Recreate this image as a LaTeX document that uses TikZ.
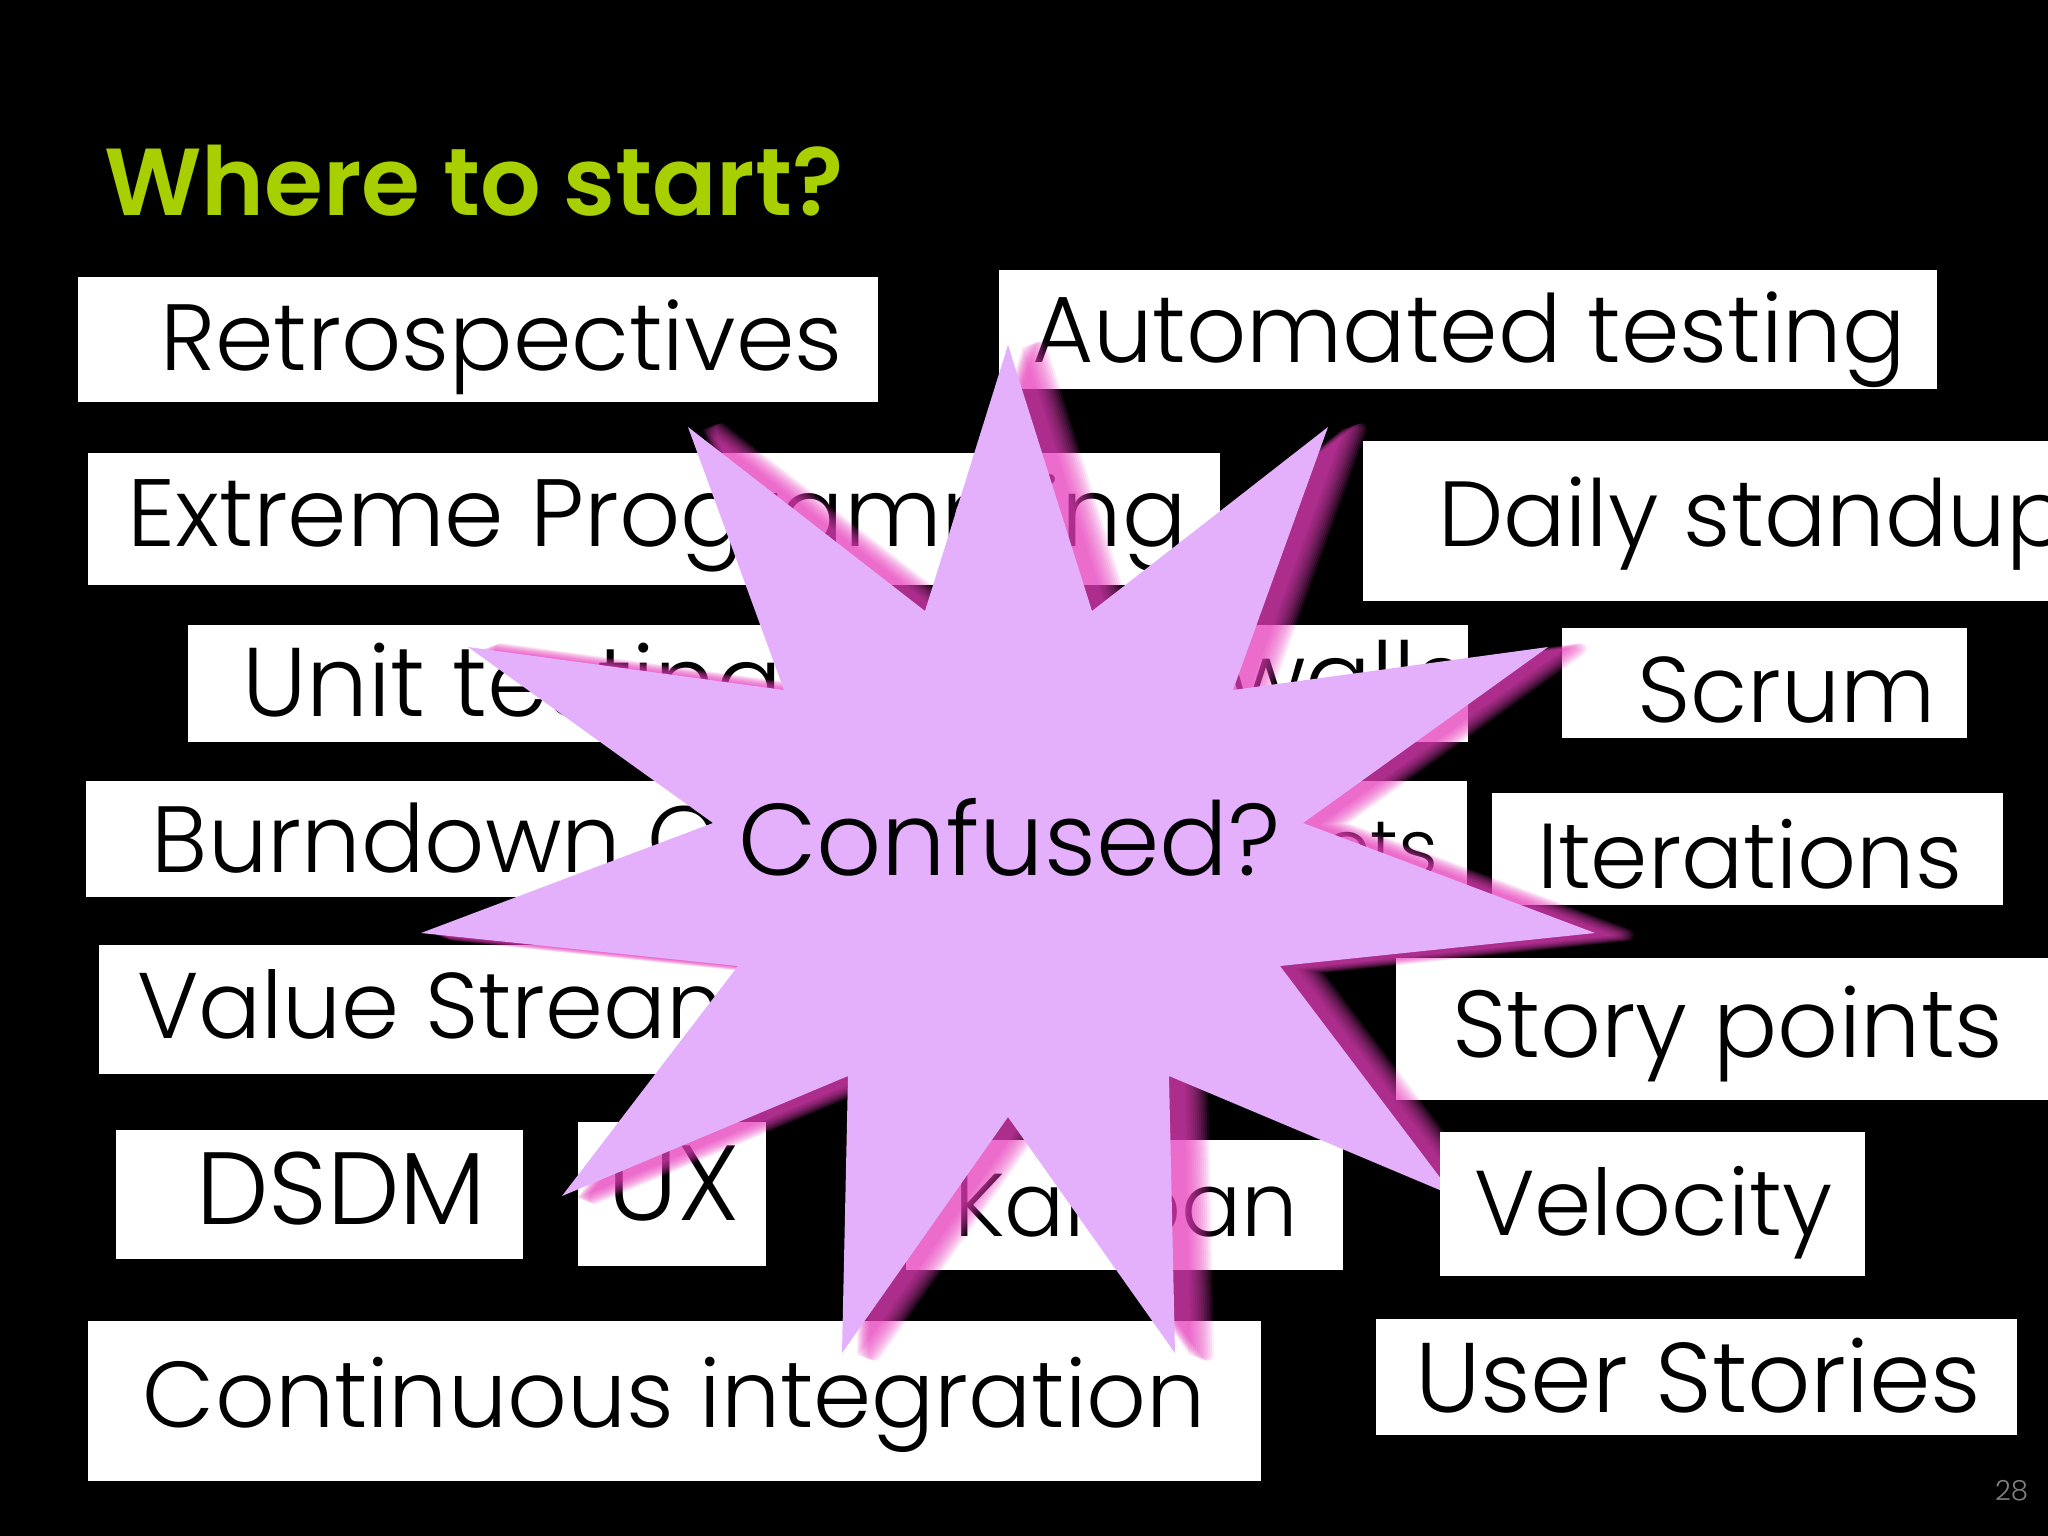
\documentclass[tikz,border=0pt]{standalone}
\usepackage{fontspec}
\setmainfont{Poppins Light}
\newfontfamily\titlefont{Poppins SemiBold}
\usetikzlibrary{calc}

\definecolor{titlegreen}{RGB}{168,207,0}
\definecolor{burstfill}{RGB}{228,176,252}
\definecolor{burstglow}{RGB}{235,64,192}
\newcommand{\fitword}[2]{\resizebox{#1cm}{!}{#2}}

\tikzset{
    card/.style={fill=white,draw=none},
    word/.style={anchor=base west,inner sep=0pt,outer sep=0pt,text=black},
    burst/.style={insert path={(1008,345) -- (1092,611) -- (1328,427) -- (1233,690) -- (1548,647) -- (1303,823) -- (1595,933) -- (1280,966) -- (1454,1196) -- (1169,1076) -- (1175,1353) -- (1008,1117) -- (842,1353) -- (848,1076) -- (562,1196) -- (738,966) -- (421,933) -- (713,823) -- (468,647) -- (784,690) -- (688,427) -- (925,611) -- cycle}}
}

\begin{document}
\begin{tikzpicture}[x=0.01cm,y=-0.01cm]
    \useasboundingbox (0,0) rectangle (2048,1536);
    \clip (0,0) rectangle (2048,1536);
    \fill[black] (0,0) rectangle (2048,1536);

    \node[word,text=titlegreen] (title) at (104,215) {\fitword{7.39}{\titlefont Where to start?}};

    \fill[card] (78,277) rectangle (878,402);
    \node[word] (retro) at (160,370) {\fitword{6.82}{Retrospectives}};
    \fill[card] (999,270) rectangle (1937,389);
    \node[word] (autotest) at (1032,362) {\fitword{8.73}{Automated testing}};
    \fill[card] (88,453) rectangle (1220,585);
    \node[word] (xp) at (127,546) {\fitword{10.59}{Extreme Programming}};
    \fill[card] (1363,441) rectangle (2048,601);
    \node[word] (standup) at (1438,546) {\fitword{6.3}{Daily standup}};
    \fill[card] (188,625) rectangle (1468,742);
    \node[word] (unit) at (242,716) {\fitword{5.4}{Unit testing}};
    \node[word] (walls) at (1226,712) {\fitword{2.4}{walls}};
    \fill[card] (1562,628) rectangle (1967,738);
    \node[word] (scrum) at (1637,722) {\fitword{2.98}{Scrum}};
    \fill[card] (86,781) rectangle (1467,897);
    \node[word] (burndown) at (152,872) {\fitword{8.06}{Burndown Charts}};
    \node[word] (ets) at (1322,875) {\fitword{1.16}{ets}};
    \fill[card] (1492,793) rectangle (2003,905);
    \node[word] (iter) at (1537,888) {\fitword{4.25}{Iterations}};
    \fill[card] (99,945) rectangle (1200,1074);
    \node[word] (vsm) at (137,1038) {\fitword{10.6}{Value Stream Mapping}};
    \fill[card] (1396,958) rectangle (2048,1100);
    \node[word] (story) at (1452,1057) {\fitword{5.51}{Story points}};
    \fill[card] (116,1130) rectangle (523,1259);
    \node[word] (dsdm) at (196,1224) {\fitword{2.9}{DSDM}};
    \fill[card] (578,1122) rectangle (766,1266);
    \node[word] (ux) at (607,1220) {\fitword{1.33}{UX}};
    \fill[card] (906,1140) rectangle (1343,1270);
    \node[word] (kanban) at (954,1236) {\fitword{3.44}{Kanban}};
    \fill[card] (88,1321) rectangle (1261,1481);
    \node[word] (ci) at (143,1427) {\fitword{10.62}{Continuous integration}};
    \fill[card] (1376,1319) rectangle (2017,1435);
    \node[word] (stories) at (1415,1412) {\fitword{5.66}{User Stories}};

    % blurred shadow
    \foreach \s/\w in {15/0,16.5/1,18/2,19.5/3,21/4,22.5/5,24/6,25.5/7,27/8,28.5/9,30/10,31.5/11,33/12} {
        \begin{scope}[shift={(\s,2)},transparency group,opacity=0.1]
            \fill[burstglow,burst];
            \draw[burstglow,line join=round,line width=\w*0.01cm,burst];
        \end{scope}
    }
    \fill[burstfill,burst];

    \fill[card] (1440,1132) rectangle (1865,1276);
    \node[word] (velocity) at (1474,1235) {\fitword{3.58}{Velocity}};

    \node[word] (confused) at (738,875) {\fitword{5.42}{Confused?}};
    \node[word,text=gray] (pagenum) at (1995,1500) {\fitword{0.33}{28}};
\end{tikzpicture}
\end{document}
